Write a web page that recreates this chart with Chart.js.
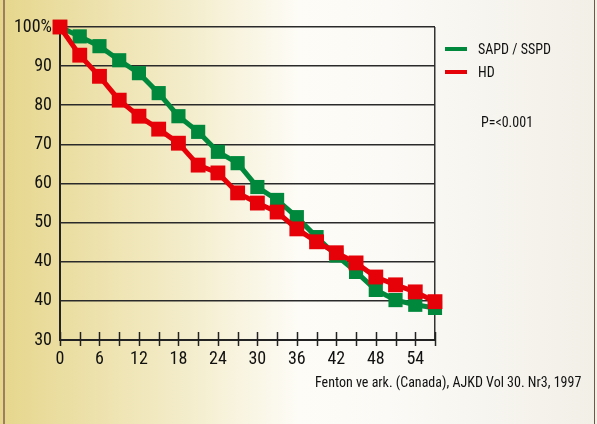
<!DOCTYPE html>
<html>
<head>
<meta charset="utf-8">
<script src="https://cdn.jsdelivr.net/npm/chart.js@4"></script>
<style>
  html, body { margin: 0; padding: 0; }
  #wrap {
    position: relative; width: 597px; height: 424px; overflow: hidden;
    background: linear-gradient(to right, #e6d68c 0%, #f2eac4 28%, #fdfcf6 50%, #fbfaf6 65%, #f2efe7 100%);
    font-family: "Liberation Sans Narrow", "Arial Narrow", "Roboto Condensed", sans-serif;
    color: #111;
  }
  #wrap:before { content: ""; position: absolute; left: 3px; top: 0; bottom: 0; width: 2px; background: #9c7f5e; }
  #wrap:after { content: ""; position: absolute; left: 594px; top: 0; bottom: 0; width: 1px; background: #6d5a46; }
  canvas { position: absolute; left: 0; top: 0; }
  .lg { position: absolute; left: 445px; width: 22px; height: 4px; }
  .txt { position: absolute; font-size: 14px; line-height: 16px; white-space: nowrap; }
</style>
</head>
<body>
<div id="wrap">
  <canvas id="chart" width="597" height="424"></canvas>
  <div id="legend"></div>
  <div class="txt" style="left:481px; top:114px;">P=&lt;0.001</div>
  <div class="txt" style="left:315px; top:374px;">Fenton ve ark. (Canada), AJKD Vol 30. Nr3, 1997</div>
</div>
<script>
// months of follow-up
const months = [0, 3, 6, 9, 12, 15, 18, 21, 24, 27, 30, 33, 36, 39, 42, 45, 48, 51, 54, 57];
// survival (axis units 20..100)
const sapd = [100, 97.6, 95.1, 91.5, 88.2, 83.1, 77.2, 73.2, 68.1, 65.2, 59.1, 55.8, 51.4, 46.3, 41.6, 37.4, 32.8, 30.2, 29.0, 28.2];
const hd = [100, 92.8, 87.4, 81.3, 77.2, 73.9, 70.3, 64.7, 62.7, 57.6, 55.0, 52.7, 48.4, 45.1, 42.3, 39.7, 36.1, 34.1, 32.3, 29.8];
const seriesNames = ['SAPD / SSPD', 'HD'];
// y tick labels as printed on the original (values 20..100)
const yLabels = ['30', '40', '40', '50', '60', '70', '80', '90', '100%'];

const green = '#00883c';
const red = '#e60008';
const xMax = 57;

// legend
const legend = document.getElementById('legend');
[[seriesNames[0], green, 47], [seriesNames[1], red, 70]].forEach(([name, col, top]) => {
    const line = document.createElement('div');
    line.className = 'lg';
    line.style.top = top + 'px';
    line.style.background = col;
    legend.appendChild(line);
    const t = document.createElement('div');
    t.className = 'txt';
    t.style.left = '478px';
    t.style.top = (top - 6) + 'px';
    t.textContent = name;
    legend.appendChild(t);
});

// tick marks crossing the x axis
const xTicks = {
    id: 'xTicks',
    afterDraw(chart) {
        const xs = chart.scales.x;
        const ctx = chart.ctx;
        ctx.save();
        ctx.strokeStyle = '#222';
        ctx.lineWidth = 1.5;
        ctx.beginPath();
        xs.ticks.forEach(t => {
            const px = Math.round(xs.getPixelForValue(t.value)) + 0.5;
            ctx.moveTo(px, xs.top - 8);
            ctx.lineTo(px, xs.top + 6);
        });
        ctx.stroke();
        ctx.restore();
    }
};

const font = { family: "'Liberation Sans Narrow', 'Arial Narrow', 'Roboto Condensed', sans-serif", size: 18 };

new Chart(document.getElementById('chart'), {
    type: 'line',
    data: {
        datasets: [
            {
                label: seriesNames[0],
                data: months.map((m, i) => ({ x: m, y: sapd[i] })),
                borderColor: green,
                backgroundColor: green,
                borderWidth: 5,
                pointStyle: 'rect',
                pointRadius: 10,
                pointBorderWidth: 0,
                clip: false,
                order: 1
            },
            {
                label: seriesNames[1],
                data: months.map((m, i) => ({ x: m, y: hd[i] })),
                borderColor: red,
                backgroundColor: red,
                borderWidth: 5,
                pointStyle: 'rect',
                pointRadius: 10.5,
                pointBorderWidth: 0,
                clip: false,
                order: 0
            }
        ]
    },
    options: {
        responsive: false,
        animation: false,
        layout: { padding: { top: 27, right: 162, bottom: 0, left: 0 } },
        plugins: { legend: { display: false }, tooltip: { enabled: false } },
        scales: {
            x: {
                type: 'linear',
                min: 0,
                max: xMax,
                afterFit: s => { s.height = 84; },
                border: { display: true, color: '#222', width: 2 },
                grid: {
                    drawTicks: false,
                    lineWidth: 1.5,
                    color: c => (c.tick && c.tick.value === xMax) ? '#333' : 'rgba(0,0,0,0)'
                },
                ticks: {
                    stepSize: 3,
                    autoSkip: false,
                    maxRotation: 0,
                    padding: 9,
                    color: '#111',
                    font: font,
                    callback: v => (v % 6 === 0 ? String(v) : '')
                }
            },
            y: {
                min: 20,
                max: 100,
                afterFit: s => { s.width = 60; },
                border: { display: true, color: '#222', width: 2 },
                grid: { drawTicks: false, color: '#2a2a2a', lineWidth: 1.6 },
                ticks: {
                    stepSize: 10,
                    padding: 8,
                    color: '#111',
                    font: font,
                    callback: v => yLabels[Math.round((v - 20) / 10)]
                }
            }
        }
    },
    plugins: [xTicks]
});
</script>
</body>
</html>
